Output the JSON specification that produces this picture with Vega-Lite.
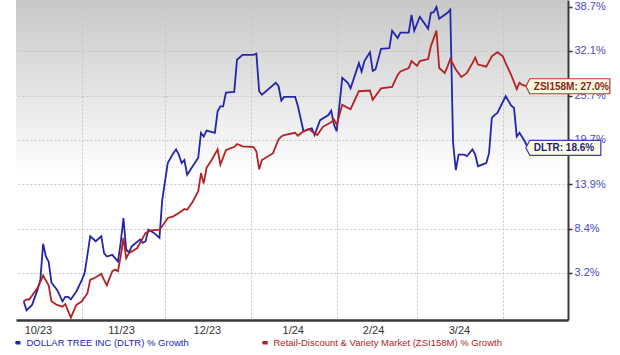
{
  "$schema": "https://vega.github.io/schema/vega-lite/v6.json",
  "width": 552,
  "height": 320,
  "autosize": {"type": "none"},
  "padding": {"left": 16, "top": 0, "right": 52, "bottom": 35},
  "background": "#ffffff",
  "config": {
    "font": "Liberation Sans",
    "view": {
      "stroke": null,
      "fill": {"gradient": "linear", "x1": 0, "y1": 0, "x2": 0, "y2": 1,
        "stops": [{"offset": 0, "color": "#c8c8c8"}, {"offset": 0.55, "color": "#ffffff"}, {"offset": 1, "color": "#ffffff"}]}
    }
  },
  "datasets": {
    "lines": [
      {"date": "2023-10-11", "s": "DLTR", "v": 1.000},
      {"date": "2023-10-12", "s": "DLTR", "v": 0.990},
      {"date": "2023-10-14", "s": "DLTR", "v": 0.996},
      {"date": "2023-10-16", "s": "DLTR", "v": 1.013},
      {"date": "2023-10-17", "s": "DLTR", "v": 1.024},
      {"date": "2023-10-18", "s": "DLTR", "v": 1.066},
      {"date": "2023-10-19", "s": "DLTR", "v": 1.051},
      {"date": "2023-10-20", "s": "DLTR", "v": 1.045},
      {"date": "2023-10-21", "s": "DLTR", "v": 1.021},
      {"date": "2023-10-23", "s": "DLTR", "v": 1.013},
      {"date": "2023-10-25", "s": "DLTR", "v": 1.000},
      {"date": "2023-10-26", "s": "DLTR", "v": 1.005},
      {"date": "2023-10-27", "s": "DLTR", "v": 1.005},
      {"date": "2023-10-28", "s": "DLTR", "v": 1.002},
      {"date": "2023-10-30", "s": "DLTR", "v": 1.011},
      {"date": "2023-11-01", "s": "DLTR", "v": 1.024},
      {"date": "2023-11-02", "s": "DLTR", "v": 1.032},
      {"date": "2023-11-03", "s": "DLTR", "v": 1.053},
      {"date": "2023-11-04", "s": "DLTR", "v": 1.075},
      {"date": "2023-11-06", "s": "DLTR", "v": 1.069},
      {"date": "2023-11-08", "s": "DLTR", "v": 1.075},
      {"date": "2023-11-09", "s": "DLTR", "v": 1.055},
      {"date": "2023-11-10", "s": "DLTR", "v": 1.051},
      {"date": "2023-11-12", "s": "DLTR", "v": 1.053},
      {"date": "2023-11-14", "s": "DLTR", "v": 1.045},
      {"date": "2023-11-15", "s": "DLTR", "v": 1.067},
      {"date": "2023-11-16", "s": "DLTR", "v": 1.097},
      {"date": "2023-11-17", "s": "DLTR", "v": 1.059},
      {"date": "2023-11-18", "s": "DLTR", "v": 1.056},
      {"date": "2023-11-19", "s": "DLTR", "v": 1.063},
      {"date": "2023-11-22", "s": "DLTR", "v": 1.071},
      {"date": "2023-11-23", "s": "DLTR", "v": 1.067},
      {"date": "2023-11-24", "s": "DLTR", "v": 1.069},
      {"date": "2023-11-25", "s": "DLTR", "v": 1.083},
      {"date": "2023-11-27", "s": "DLTR", "v": 1.079},
      {"date": "2023-11-29", "s": "DLTR", "v": 1.073},
      {"date": "2023-11-30", "s": "DLTR", "v": 1.119},
      {"date": "2023-12-02", "s": "DLTR", "v": 1.166},
      {"date": "2023-12-04", "s": "DLTR", "v": 1.179},
      {"date": "2023-12-05", "s": "DLTR", "v": 1.184},
      {"date": "2023-12-06", "s": "DLTR", "v": 1.177},
      {"date": "2023-12-07", "s": "DLTR", "v": 1.166},
      {"date": "2023-12-08", "s": "DLTR", "v": 1.170},
      {"date": "2023-12-09", "s": "DLTR", "v": 1.151},
      {"date": "2023-12-11", "s": "DLTR", "v": 1.162},
      {"date": "2023-12-13", "s": "DLTR", "v": 1.173},
      {"date": "2023-12-14", "s": "DLTR", "v": 1.206},
      {"date": "2023-12-15", "s": "DLTR", "v": 1.201},
      {"date": "2023-12-16", "s": "DLTR", "v": 1.209},
      {"date": "2023-12-19", "s": "DLTR", "v": 1.206},
      {"date": "2023-12-20", "s": "DLTR", "v": 1.235},
      {"date": "2023-12-21", "s": "DLTR", "v": 1.242},
      {"date": "2023-12-22", "s": "DLTR", "v": 1.242},
      {"date": "2023-12-23", "s": "DLTR", "v": 1.261},
      {"date": "2023-12-26", "s": "DLTR", "v": 1.262},
      {"date": "2023-12-27", "s": "DLTR", "v": 1.308},
      {"date": "2023-12-29", "s": "DLTR", "v": 1.315},
      {"date": "2024-01-02", "s": "DLTR", "v": 1.315},
      {"date": "2024-01-03", "s": "DLTR", "v": 1.317},
      {"date": "2024-01-04", "s": "DLTR", "v": 1.263},
      {"date": "2024-01-05", "s": "DLTR", "v": 1.258},
      {"date": "2024-01-10", "s": "DLTR", "v": 1.275},
      {"date": "2024-01-11", "s": "DLTR", "v": 1.270},
      {"date": "2024-01-12", "s": "DLTR", "v": 1.250},
      {"date": "2024-01-13", "s": "DLTR", "v": 1.255},
      {"date": "2024-01-17", "s": "DLTR", "v": 1.255},
      {"date": "2024-01-18", "s": "DLTR", "v": 1.242},
      {"date": "2024-01-20", "s": "DLTR", "v": 1.208},
      {"date": "2024-01-22", "s": "DLTR", "v": 1.211},
      {"date": "2024-01-23", "s": "DLTR", "v": 1.212},
      {"date": "2024-01-24", "s": "DLTR", "v": 1.203},
      {"date": "2024-01-26", "s": "DLTR", "v": 1.223},
      {"date": "2024-01-29", "s": "DLTR", "v": 1.230},
      {"date": "2024-01-30", "s": "DLTR", "v": 1.236},
      {"date": "2024-01-31", "s": "DLTR", "v": 1.217},
      {"date": "2024-02-01", "s": "DLTR", "v": 1.208},
      {"date": "2024-02-03", "s": "DLTR", "v": 1.282},
      {"date": "2024-02-05", "s": "DLTR", "v": 1.275},
      {"date": "2024-02-06", "s": "DLTR", "v": 1.267},
      {"date": "2024-02-09", "s": "DLTR", "v": 1.303},
      {"date": "2024-02-10", "s": "DLTR", "v": 1.291},
      {"date": "2024-02-11", "s": "DLTR", "v": 1.306},
      {"date": "2024-02-13", "s": "DLTR", "v": 1.319},
      {"date": "2024-02-14", "s": "DLTR", "v": 1.292},
      {"date": "2024-02-15", "s": "DLTR", "v": 1.294},
      {"date": "2024-02-17", "s": "DLTR", "v": 1.324},
      {"date": "2024-02-20", "s": "DLTR", "v": 1.325},
      {"date": "2024-02-21", "s": "DLTR", "v": 1.351},
      {"date": "2024-02-23", "s": "DLTR", "v": 1.340},
      {"date": "2024-02-24", "s": "DLTR", "v": 1.348},
      {"date": "2024-02-27", "s": "DLTR", "v": 1.348},
      {"date": "2024-02-28", "s": "DLTR", "v": 1.375},
      {"date": "2024-02-29", "s": "DLTR", "v": 1.351},
      {"date": "2024-03-02", "s": "DLTR", "v": 1.372},
      {"date": "2024-03-05", "s": "DLTR", "v": 1.354},
      {"date": "2024-03-06", "s": "DLTR", "v": 1.378},
      {"date": "2024-03-07", "s": "DLTR", "v": 1.379},
      {"date": "2024-03-08", "s": "DLTR", "v": 1.387},
      {"date": "2024-03-09", "s": "DLTR", "v": 1.369},
      {"date": "2024-03-12", "s": "DLTR", "v": 1.378},
      {"date": "2024-03-13", "s": "DLTR", "v": 1.383},
      {"date": "2024-03-14", "s": "DLTR", "v": 1.193},
      {"date": "2024-03-15", "s": "DLTR", "v": 1.157},
      {"date": "2024-03-16", "s": "DLTR", "v": 1.177},
      {"date": "2024-03-18", "s": "DLTR", "v": 1.177},
      {"date": "2024-03-19", "s": "DLTR", "v": 1.175},
      {"date": "2024-03-21", "s": "DLTR", "v": 1.184},
      {"date": "2024-03-22", "s": "DLTR", "v": 1.177},
      {"date": "2024-03-23", "s": "DLTR", "v": 1.162},
      {"date": "2024-03-26", "s": "DLTR", "v": 1.166},
      {"date": "2024-03-27", "s": "DLTR", "v": 1.179},
      {"date": "2024-03-28", "s": "DLTR", "v": 1.226},
      {"date": "2024-03-29", "s": "DLTR", "v": 1.230},
      {"date": "2024-03-30", "s": "DLTR", "v": 1.233},
      {"date": "2024-04-02", "s": "DLTR", "v": 1.256},
      {"date": "2024-04-04", "s": "DLTR", "v": 1.243},
      {"date": "2024-04-05", "s": "DLTR", "v": 1.240},
      {"date": "2024-04-06", "s": "DLTR", "v": 1.201},
      {"date": "2024-04-07", "s": "DLTR", "v": 1.206},
      {"date": "2024-04-09", "s": "DLTR", "v": 1.194},
      {"date": "2024-04-10", "s": "DLTR", "v": 1.186},
      {"date": "2023-10-11", "s": "ZSI", "v": 1.000},
      {"date": "2023-10-12", "s": "ZSI", "v": 1.002},
      {"date": "2023-10-13", "s": "ZSI", "v": 1.002},
      {"date": "2023-10-16", "s": "ZSI", "v": 1.015},
      {"date": "2023-10-18", "s": "ZSI", "v": 1.029},
      {"date": "2023-10-20", "s": "ZSI", "v": 1.018},
      {"date": "2023-10-21", "s": "ZSI", "v": 1.000},
      {"date": "2023-10-23", "s": "ZSI", "v": 0.996},
      {"date": "2023-10-25", "s": "ZSI", "v": 0.994},
      {"date": "2023-10-26", "s": "ZSI", "v": 0.997},
      {"date": "2023-10-28", "s": "ZSI", "v": 0.982},
      {"date": "2023-10-30", "s": "ZSI", "v": 0.996},
      {"date": "2023-11-01", "s": "ZSI", "v": 1.000},
      {"date": "2023-11-03", "s": "ZSI", "v": 1.009},
      {"date": "2023-11-04", "s": "ZSI", "v": 1.024},
      {"date": "2023-11-06", "s": "ZSI", "v": 1.027},
      {"date": "2023-11-08", "s": "ZSI", "v": 1.031},
      {"date": "2023-11-09", "s": "ZSI", "v": 1.024},
      {"date": "2023-11-10", "s": "ZSI", "v": 1.018},
      {"date": "2023-11-12", "s": "ZSI", "v": 1.034},
      {"date": "2023-11-13", "s": "ZSI", "v": 1.036},
      {"date": "2023-11-14", "s": "ZSI", "v": 1.034},
      {"date": "2023-11-15", "s": "ZSI", "v": 1.051},
      {"date": "2023-11-16", "s": "ZSI", "v": 1.073},
      {"date": "2023-11-17", "s": "ZSI", "v": 1.049},
      {"date": "2023-11-18", "s": "ZSI", "v": 1.055},
      {"date": "2023-11-21", "s": "ZSI", "v": 1.061},
      {"date": "2023-11-23", "s": "ZSI", "v": 1.073},
      {"date": "2023-11-24", "s": "ZSI", "v": 1.079},
      {"date": "2023-11-26", "s": "ZSI", "v": 1.082},
      {"date": "2023-11-29", "s": "ZSI", "v": 1.083},
      {"date": "2023-11-30", "s": "ZSI", "v": 1.087},
      {"date": "2023-12-02", "s": "ZSI", "v": 1.097},
      {"date": "2023-12-04", "s": "ZSI", "v": 1.099},
      {"date": "2023-12-06", "s": "ZSI", "v": 1.103},
      {"date": "2023-12-08", "s": "ZSI", "v": 1.108},
      {"date": "2023-12-09", "s": "ZSI", "v": 1.107},
      {"date": "2023-12-11", "s": "ZSI", "v": 1.117},
      {"date": "2023-12-13", "s": "ZSI", "v": 1.130},
      {"date": "2023-12-14", "s": "ZSI", "v": 1.153},
      {"date": "2023-12-15", "s": "ZSI", "v": 1.140},
      {"date": "2023-12-16", "s": "ZSI", "v": 1.160},
      {"date": "2023-12-18", "s": "ZSI", "v": 1.171},
      {"date": "2023-12-20", "s": "ZSI", "v": 1.184},
      {"date": "2023-12-21", "s": "ZSI", "v": 1.164},
      {"date": "2023-12-23", "s": "ZSI", "v": 1.183},
      {"date": "2023-12-25", "s": "ZSI", "v": 1.186},
      {"date": "2023-12-26", "s": "ZSI", "v": 1.187},
      {"date": "2023-12-27", "s": "ZSI", "v": 1.191},
      {"date": "2023-12-29", "s": "ZSI", "v": 1.188},
      {"date": "2024-01-02", "s": "ZSI", "v": 1.187},
      {"date": "2024-01-03", "s": "ZSI", "v": 1.181},
      {"date": "2024-01-04", "s": "ZSI", "v": 1.158},
      {"date": "2024-01-05", "s": "ZSI", "v": 1.170},
      {"date": "2024-01-09", "s": "ZSI", "v": 1.179},
      {"date": "2024-01-11", "s": "ZSI", "v": 1.197},
      {"date": "2024-01-12", "s": "ZSI", "v": 1.201},
      {"date": "2024-01-13", "s": "ZSI", "v": 1.203},
      {"date": "2024-01-17", "s": "ZSI", "v": 1.206},
      {"date": "2024-01-18", "s": "ZSI", "v": 1.202},
      {"date": "2024-01-20", "s": "ZSI", "v": 1.208},
      {"date": "2024-01-22", "s": "ZSI", "v": 1.211},
      {"date": "2024-01-23", "s": "ZSI", "v": 1.208},
      {"date": "2024-01-25", "s": "ZSI", "v": 1.203},
      {"date": "2024-01-27", "s": "ZSI", "v": 1.214},
      {"date": "2024-01-30", "s": "ZSI", "v": 1.220},
      {"date": "2024-01-31", "s": "ZSI", "v": 1.224},
      {"date": "2024-02-01", "s": "ZSI", "v": 1.217},
      {"date": "2024-02-03", "s": "ZSI", "v": 1.244},
      {"date": "2024-02-06", "s": "ZSI", "v": 1.238},
      {"date": "2024-02-09", "s": "ZSI", "v": 1.263},
      {"date": "2024-02-13", "s": "ZSI", "v": 1.264},
      {"date": "2024-02-14", "s": "ZSI", "v": 1.251},
      {"date": "2024-02-17", "s": "ZSI", "v": 1.267},
      {"date": "2024-02-21", "s": "ZSI", "v": 1.269},
      {"date": "2024-02-23", "s": "ZSI", "v": 1.286},
      {"date": "2024-02-24", "s": "ZSI", "v": 1.291},
      {"date": "2024-02-27", "s": "ZSI", "v": 1.296},
      {"date": "2024-02-28", "s": "ZSI", "v": 1.306},
      {"date": "2024-03-01", "s": "ZSI", "v": 1.299},
      {"date": "2024-03-02", "s": "ZSI", "v": 1.306},
      {"date": "2024-03-05", "s": "ZSI", "v": 1.309},
      {"date": "2024-03-06", "s": "ZSI", "v": 1.328},
      {"date": "2024-03-08", "s": "ZSI", "v": 1.351},
      {"date": "2024-03-09", "s": "ZSI", "v": 1.296},
      {"date": "2024-03-11", "s": "ZSI", "v": 1.289},
      {"date": "2024-03-12", "s": "ZSI", "v": 1.298},
      {"date": "2024-03-13", "s": "ZSI", "v": 1.309},
      {"date": "2024-03-15", "s": "ZSI", "v": 1.294},
      {"date": "2024-03-17", "s": "ZSI", "v": 1.283},
      {"date": "2024-03-19", "s": "ZSI", "v": 1.289},
      {"date": "2024-03-21", "s": "ZSI", "v": 1.303},
      {"date": "2024-03-22", "s": "ZSI", "v": 1.311},
      {"date": "2024-03-23", "s": "ZSI", "v": 1.301},
      {"date": "2024-03-26", "s": "ZSI", "v": 1.298},
      {"date": "2024-03-28", "s": "ZSI", "v": 1.313},
      {"date": "2024-03-30", "s": "ZSI", "v": 1.319},
      {"date": "2024-04-01", "s": "ZSI", "v": 1.313},
      {"date": "2024-04-02", "s": "ZSI", "v": 1.303},
      {"date": "2024-04-04", "s": "ZSI", "v": 1.286},
      {"date": "2024-04-06", "s": "ZSI", "v": 1.266},
      {"date": "2024-04-07", "s": "ZSI", "v": 1.275},
      {"date": "2024-04-08", "s": "ZSI", "v": 1.272},
      {"date": "2024-04-10", "s": "ZSI", "v": 1.270}
    ],
    "ends": [
      {"date": "2024-04-10", "s": "DLTR", "v": 1.186, "label": "DLTR: 18.6%"},
      {"date": "2024-04-10", "s": "ZSI", "v": 1.270, "label": "ZSI158M: 27.0%"}
    ]
  },
  "encoding": {
    "x": {
      "field": "date", "type": "temporal",
      "scale": {"type": "utc", "domain": [{"year": 2023, "month": 10, "date": 8, "hours": 5, "utc": true}, {"year": 2024, "month": 4, "date": 24, "hours": 12, "utc": true}]},
      "axis": {
        "title": null,
        "values": [
          {"year": 2023, "month": 11, "date": 1, "utc": true},
          {"year": 2023, "month": 12, "date": 1, "utc": true},
          {"year": 2024, "month": 1, "date": 1, "utc": true},
          {"year": 2024, "month": 2, "date": 1, "utc": true},
          {"year": 2024, "month": 3, "date": 1, "utc": true},
          {"year": 2024, "month": 4, "date": 1, "utc": true}
        ],
        "labelExpr": "utcFormat(datum.value - 15 * 864e5, '%-m/%y')",
        "labelOffset": -44,
        "labelFontSize": 11,
        "labelColor": "#333333",
        "labelPadding": 4,
        "ticks": false,
        "domainColor": "#3a3a3a",
        "domainWidth": 2.5,
        "grid": true,
        "gridColor": "#c4c4c4",
        "gridDash": [2, 2],
        "gridWidth": 1
      }
    },
    "y": {
      "field": "v", "type": "quantitative",
      "scale": {"type": "log", "domain": [0.9794, 1.3978], "nice": false, "zero": false},
      "axis": {
        "title": null,
        "orient": "right",
        "values": [1.032, 1.084, 1.139, 1.197, 1.257, 1.321, 1.387],
        "labelExpr": "format((datum.value - 1) * 100, '.1f') + '%'",
        "labelFontSize": 11,
        "labelColor": "#4a4ac4",
        "labelPadding": 2,
        "tickSize": 4,
        "tickColor": "#333333",
        "tickWidth": 1.5,
        "domainColor": "#3a3a3a",
        "domainWidth": 2,
        "grid": true,
        "gridColor": "#c4c4c4",
        "gridDash": [2, 2],
        "gridWidth": 1
      }
    }
  },
  "layer": [
    {
      "data": {"name": "lines"},
      "mark": {"type": "line", "strokeWidth": 1.8, "interpolate": "linear"},
      "encoding": {
        "color": {
          "field": "s", "type": "nominal",
          "scale": {"domain": ["DLTR", "ZSI"], "range": ["#2424ac", "#b42222"]},
          "legend": {
            "title": null,
            "orient": "none",
            "legendX": -4,
            "legendY": 338,
            "direction": "horizontal",
            "symbolType": "stroke",
            "symbolSize": 36,
            "symbolStrokeWidth": 3,
            "labelFontSize": 9.5,
            "labelLimit": 400,
            "labelOffset": 5,
            "columnPadding": 68,
            "padding": 0,
            "labelExpr": "datum.label == 'DLTR' ? 'DOLLAR TREE INC (DLTR) % Growth' : 'Retail-Discount & Variety Market (ZSI158M) % Growth'",
            "encode": {"labels": {"update": {"fill": {"scale": "color", "field": "value"}}}}
          }
        }
      }
    },
    {
      "data": {"name": "ends"},
      "mark": {"type": "point", "filled": true, "fill": "#fffbe3", "opacity": 1, "strokeWidth": 1.2, "size": 40000},
      "encoding": {
        "shape": {
          "field": "s", "type": "nominal", "legend": null,
          "scale": {"domain": ["DLTR", "ZSI"], "range": [
            "M -0.02 0 L 0.02 -0.075 L 0.73 -0.075 L 0.73 0.075 L 0.02 0.075 Z",
            "M -0.02 0 L 0.02 -0.075 L 0.82 -0.075 L 0.82 0.075 L 0.02 0.075 Z"
          ]}
        },
        "stroke": {
          "field": "s", "type": "nominal", "legend": null,
          "scale": {"domain": ["DLTR", "ZSI"], "range": ["#3a3ab8", "#c23030"]}
        }
      }
    },
    {
      "data": {"name": "ends"},
      "mark": {"type": "text", "align": "left", "baseline": "middle", "dx": 6, "dy": 0.5, "fontSize": 10, "fontWeight": "bold"},
      "encoding": {
        "text": {"field": "label"},
        "fill": {
          "field": "s", "type": "nominal", "legend": null,
          "scale": {"domain": ["DLTR", "ZSI"], "range": ["#1c1c80", "#8e1a1a"]}
        }
      }
    }
  ]
}
